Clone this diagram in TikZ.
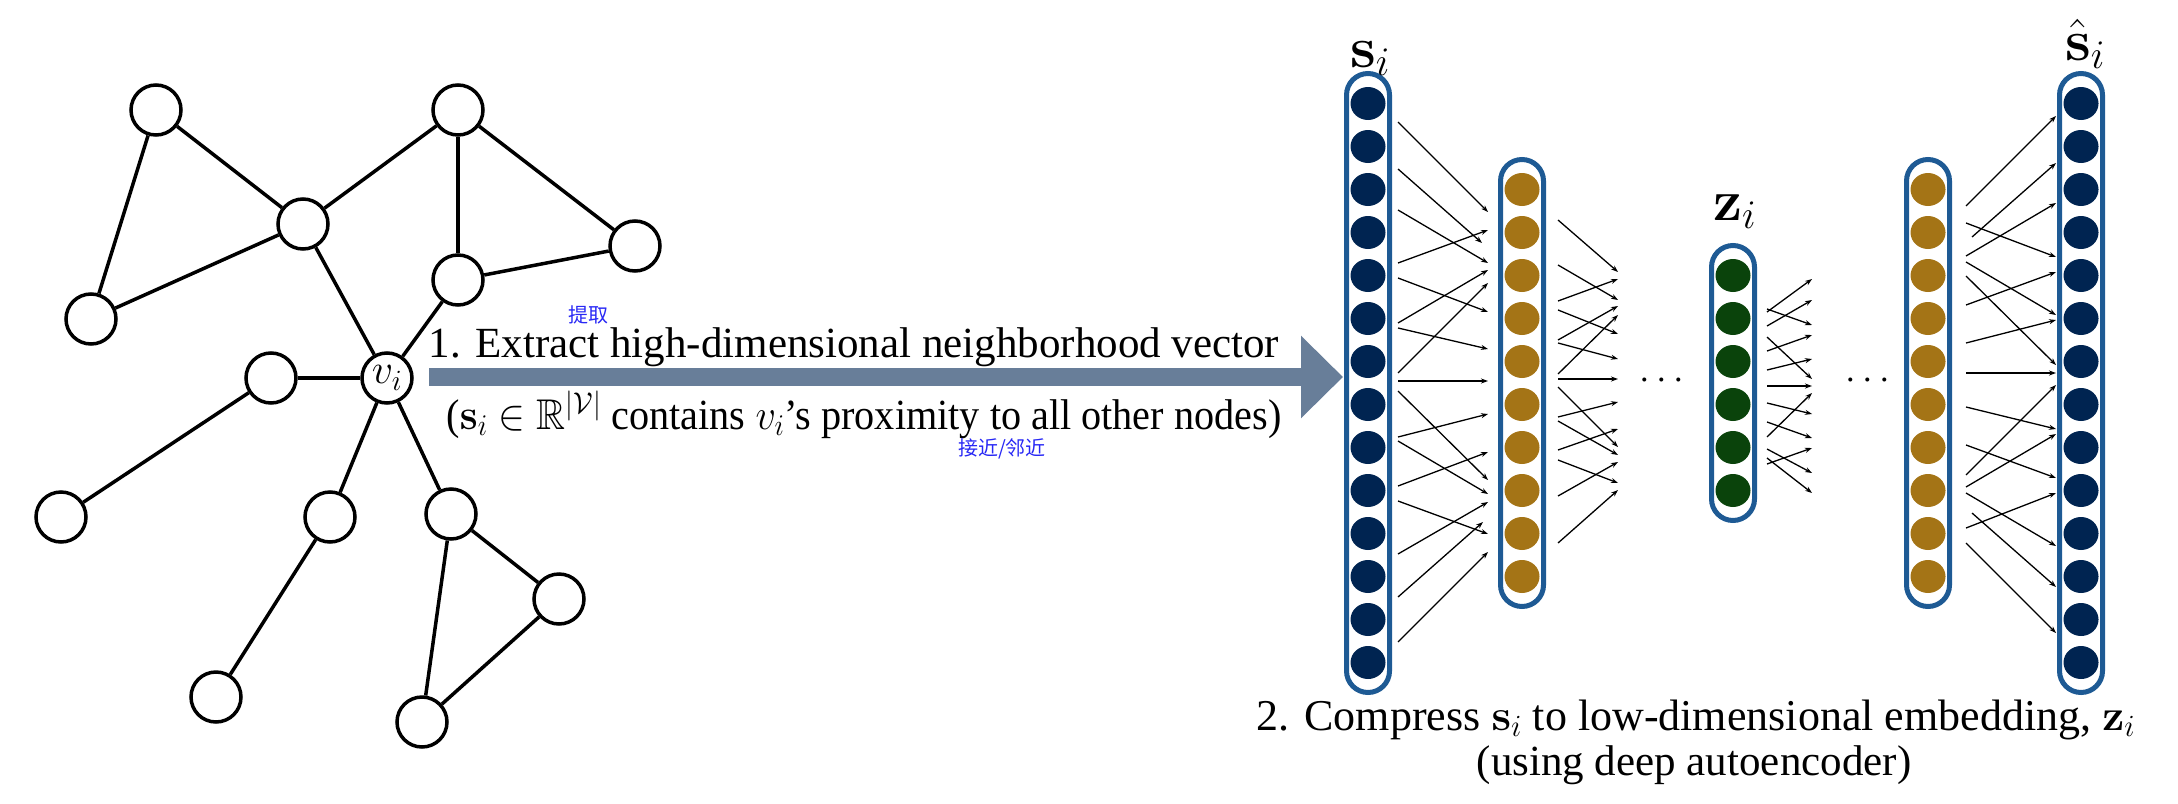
\RequirePackage{fix-cm}
\documentclass[tikz,border=0pt]{standalone}
\usepackage{amsmath,amssymb,graphicx}
\usepackage[no-math]{fontspec}
\setmainfont{Liberation Serif}
\newfontfamily\cjk{Noto Sans CJK SC}
\usetikzlibrary{arrows.meta,shapes.geometric}
\definecolor{navy}{RGB}{0,36,81}
\definecolor{gold}{RGB}{164,116,22}
\definecolor{dgreen}{RGB}{10,67,11}
\definecolor{capblue}{RGB}{30,90,148}
\definecolor{arrowc}{RGB}{104,126,153}
\definecolor{notec}{RGB}{40,40,245}
\tikzset{
  gnode/.style={circle, draw=black, line width=3.5pt, fill=white, minimum size=50pt, inner sep=0pt},
  gedge/.style={line width=3.5pt, draw=black},
  neuron/.style={ellipse, draw=none, minimum width=35pt, minimum height=33pt, inner sep=0pt},
  capsule/.style={draw=capblue, line width=5pt, rounded corners=21.5pt},
  nnarrow/.style={line width=1.3pt, -{Stealth[length=7pt,width=5pt]}},
  bigarrow/.style={draw=arrowc, line width=18pt, -{Triangle[length=42pt,width=80pt]}},
  txt/.style={font=\fontsize{43}{50}\selectfont, inner sep=0pt},
  lbl/.style={font=\fontsize{58}{66}\selectfont, inner sep=0pt},
  note/.style={font=\cjk\fontsize{20}{24}\selectfont, text=notec, inner sep=0pt},
  dots/.style={font=\fontsize{38}{44}\selectfont, inner sep=0pt, anchor=base}
}
\begin{document}
\begin{tikzpicture}[x=1pt,y=-1pt]
\useasboundingbox (0,0) rectangle (2178,803);

% ---- graph ----
\node[gnode] (A) at (156,110) {};
\node[gnode] (B) at (458,110) {};
\node[gnode] (C) at (303,224) {};
\node[gnode] (D) at (91,319) {};
\node[gnode] (E) at (635,246) {};
\node[gnode] (F) at (458,280) {};
\node[gnode, font=\fontsize{42}{48}\selectfont] (vi) at (387,378) {$v_i$};
\node[gnode] (G) at (271,378) {};
\node[gnode] (H) at (61,517) {};
\node[gnode] (I) at (330,517) {};
\node[gnode] (J) at (451,514) {};
\node[gnode] (K) at (559,599) {};
\node[gnode] (L) at (216,697) {};
\node[gnode] (M) at (422,722) {};
\foreach \u/\v in {A/C, A/D, C/D, C/B, B/F, B/E, F/E, C/vi, F/vi, G/vi, G/H, vi/I, vi/J, I/L, J/K, J/M, K/M}
  \draw[gedge] (\u) -- (\v);

% ---- big arrow ----
\coordinate (arrS) at (429,377);
\coordinate (arrE) at (1343,377);
\draw[bigarrow] (arrS) -- (arrE);

\node[txt, anchor=base] (t1) at (854,357) {1. Extract high-dimensional neighborhood vector};
\node[txt, anchor=base] (t2) at (864,429) {\scalebox{0.935}[1]{($\mathbf{s}_i \in \mathbb{R}^{|\mathcal{V}|}$ contains $v_i$'s proximity to all other nodes)}};
\node[note] (n1) at (588,315) {提取};
\node[note] (n2) at (1002,449) {接近/邻近};

% ---- autoencoder layers ----
\foreach \nm/\cx/\nn/\ys/\col in {a/1368/14/103.5/navy, b/1522/10/189.5/gold, c/1733/6/275.5/dgreen, d/1928/10/189.5/gold, e/2081/14/103.5/navy} {
  \pgfmathsetmacro\yl{\ys+(\nn-1)*43}
  \draw[capsule] (\cx-21.5,\ys-30) rectangle (\cx+21.5,\yl+30);
  \foreach \k in {1,...,\nn} {
    \node[neuron, fill=\col] (\nm\k) at (\cx,\ys+\k*43-43) {};
  }
}

% gap 1
\foreach \xa/\ya/\xb/\yb in {1398/122/1488/212, 1398/169/1482/243, 1398/210/1488/263, 1398/263/1488/230,
  1398/278/1488/312, 1398/323/1488/270, 1398/328/1488/349, 1398/373/1488/283, 1398/381/1488/381,
  1398/391/1488/480, 1398/437/1488/414, 1398/441/1488/494, 1398/486/1488/452, 1398/501/1488/534,
  1398/554/1488/502, 1398/597/1483/522, 1398/642/1488/552}
  \draw[nnarrow] (\xa,\ya) -- (\xb,\yb);
% gap 2
\foreach \ya/\yb in {220/272, 265/300, 301/279, 310/334, 340/306, 343/359, 374/315, 379/379,
  387/447, 417/402, 421/455, 450/429, 460/483, 496/462, 543/490}
  \draw[nnarrow] (1558,\ya) -- (1618,\yb);
% gap 3
\foreach \ya/\yb in {312/279, 309/325, 326/300, 337/379, 351/335, 370/359, 386/386, 403/414,
  437/393, 422/438, 449/473, 464/448, 458/493}
  \draw[nnarrow] (1767,\ya) -- (1812,\yb);
% gap 4
\foreach \xa/\ya/\xb/\yb in {1966/206/2056/116, 1972/237/2056/163, 1966/223/2056/257, 1966/256/2056/203,
  1966/262/2056/315, 1966/276/2056/365, 1966/305/2056/272, 1966/343/2056/320, 1966/373/2056/373,
  1966/475/2056/385, 1966/407/2056/429, 1966/445/2056/478, 1966/487/2056/434, 1966/493/2056/546,
  1966/528/2056/493, 1972/513/2056/587, 1966/543/2056/633}
  \draw[nnarrow] (\xa,\ya) -- (\xb,\yb);

\node[dots] (dots1) at (1665,389.5) {$\cdots$};
\node[dots] (dots2) at (1871,389.5) {$\cdots$};

% ---- labels ----
\node[lbl, anchor=base west] (slab) at (1350,67) {$\mathbf{s}_i$};
\node[lbl, anchor=base west] (zlab) at (1713,220) {$\mathbf{z}_i$};
\node[lbl, anchor=base west] (shlab) at (2065,60) {$\hat{\mathbf{s}}_i$};

\node[txt, font=\fontsize{44}{50}\selectfont, anchor=base] (b1) at (1696,730) {2. Compress $\mathbf{s}_i$ to low-dimensional embedding, $\mathbf{z}_i$};
\node[txt, anchor=base] (b2) at (1694,775) {(using deep autoencoder)};
\end{tikzpicture}
\end{document}
